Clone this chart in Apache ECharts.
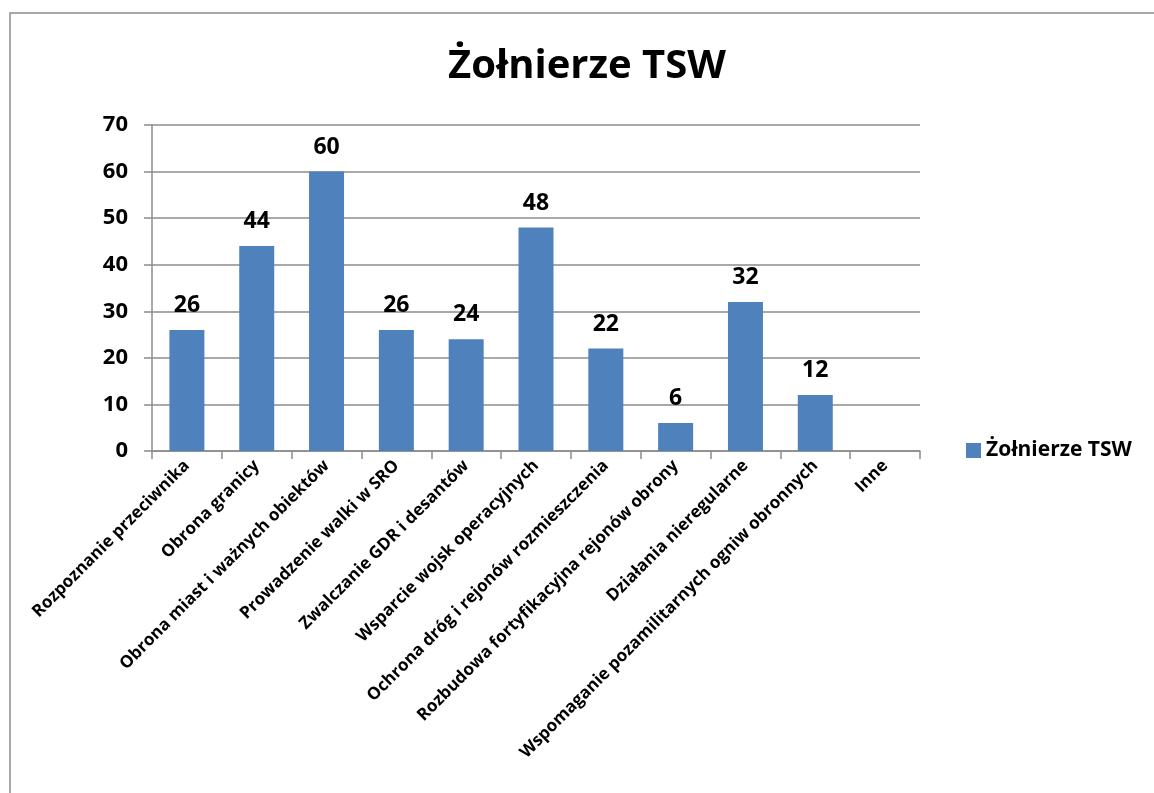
<!DOCTYPE html>
<html>
<head>
<meta charset="utf-8">
<script src="https://cdn.jsdelivr.net/npm/echarts@6/dist/echarts.min.js"></script>
<style>
html, body { margin: 0; padding: 0; background: #fff; }
#chart { width: 1154px; height: 793px; }
</style>
</head>
<body>
<div id="chart"></div>
<script>
var categories = ['Rozpoznanie przeciwnika', 'Obrona granicy', 'Obrona miast i ważnych obiektów',
    'Prowadzenie walki w SRO', 'Zwalczanie GDR i desantów', 'Wsparcie wojsk operacyjnych',
    'Ochrona dróg i rejonów rozmieszczenia', 'Rozbudowa fortyfikacyjna rejonów obrony',
    'Działania nieregularne', 'Wspomaganie pozamilitarnych ogniw obronnych', 'Inne'];
var values = [26, 44, 60, 26, 24, 48, 22, 6, 32, 12, null];
var seriesName = 'Żołnierze TSW';

var fontFam = '"Open Sans", "Liberation Sans", sans-serif';
var chart = echarts.init(document.getElementById('chart'));
var option = {
    animation: false,
    backgroundColor: '#fff',
    textStyle: { fontFamily: fontFam },
    title: {
        text: 'Żołnierze TSW',
        left: 582,
        top: 42,
        textAlign: 'center',
        textStyle: { fontSize: 40, fontWeight: 'bold', color: '#000', fontFamily: fontFam }
    },
    graphic: [{
        type: 'rect',
        shape: { x: 10, y: 13, width: 1300, height: 900 },
        style: { fill: 'none', stroke: '#8c8c8c', lineWidth: 1.5 },
        silent: true
    }],
    legend: {
        left: 961,
        top: 435,
        itemWidth: 15,
        itemHeight: 15,
        itemGap: 6,
        icon: 'rect',
        textStyle: { fontSize: 21, fontWeight: 'bold', color: '#000' },
        data: [seriesName]
    },
    grid: { left: 152, right: 234, top: 125, bottom: 342, containLabel: false },
    xAxis: {
        type: 'category',
        data: categories,
        axisLine: { lineStyle: { color: '#8c8c8c', width: 1.5 } },
        axisTick: { show: true, alignWithLabel: false, length: 8, lineStyle: { color: '#8c8c8c', width: 1.5 } },
        axisLabel: {
            interval: 0,
            rotate: 45,
            margin: 12,
            fontSize: 17,
            fontWeight: 'bold',
            color: '#000'
        }
    },
    yAxis: {
        type: 'value',
        min: 0,
        max: 70,
        interval: 10,
        axisLine: { show: true, lineStyle: { color: '#8c8c8c', width: 1.5 } },
        axisTick: { show: true, inside: false, length: 8, lineStyle: { color: '#8c8c8c', width: 1.5 } },
        splitLine: { lineStyle: { color: '#8c8c8c', width: 1.5 } },
        axisLabel: { fontSize: 22, fontWeight: 'bold', color: '#000', margin: 24 }
    },
    series: [{
        name: seriesName,
        type: 'bar',
        data: values,
        barWidth: 35,
        itemStyle: { color: '#4f81bd' },
        label: {
            show: true,
            position: 'top',
            distance: 13,
            fontSize: 23,
            fontWeight: 'bold',
            color: '#000'
        }
    }]
};
chart.setOption(option);
</script>
</body>
</html>
